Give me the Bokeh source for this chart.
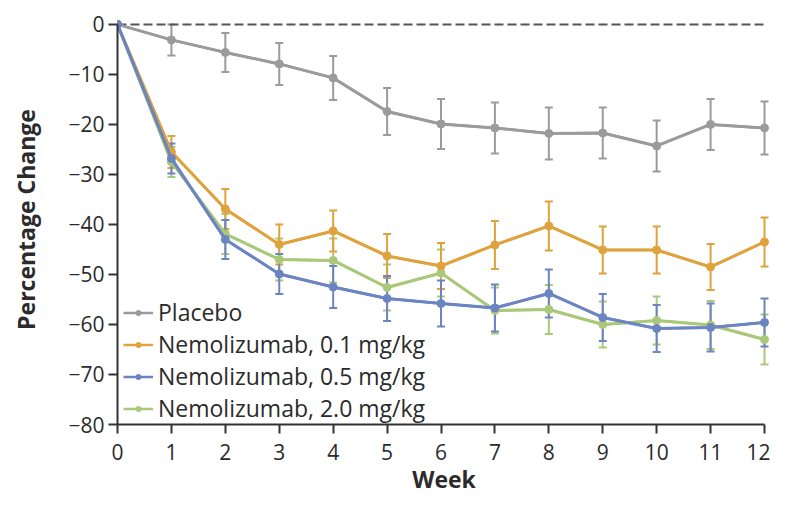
from bokeh.plotting import figure
from bokeh.models import ColumnDataSource, Whisker, Legend, LegendItem, FixedTicker, Range1d, TeeHead
from bokeh.embed import file_html
from bokeh.resources import INLINE

weeks = list(range(13))
placebo = [0, -3.1, -5.6, -7.9, -10.7, -17.4, -19.9, -20.7, -21.8, -21.7, -24.3, -20.0, -20.7]
placebo_err = [0, 3.1, 3.9, 4.2, 4.4, 4.7, 5.0, 5.1, 5.2, 5.1, 5.1, 5.1, 5.3]
nemo01 = [0, -25.5, -36.9, -44.0, -41.3, -46.3, -48.3, -44.1, -40.3, -45.1, -45.1, -48.5, -43.5]
nemo01_err = [0, 3.2, 4.0, 4.0, 4.1, 4.4, 4.6, 4.8, 4.9, 4.7, 4.7, 4.6, 4.9]
nemo05 = [0, -26.8, -43.0, -49.9, -52.5, -54.8, -55.8, -56.7, -53.8, -58.6, -60.8, -60.6, -59.6]
nemo05_err = [0, 3.0, 3.9, 4.0, 4.2, 4.5, 4.6, 4.7, 4.8, 4.7, 4.7, 4.8, 4.8]
nemo20 = [0, -27.5, -41.9, -47.0, -47.2, -52.6, -49.7, -57.2, -57.0, -60.0, -59.2, -60.1, -63.0]
nemo20_err = [0, 3.0, 4.0, 4.2, 4.4, 4.6, 4.7, 4.6, 4.9, 4.6, 4.8, 4.8, 5.0]

series_names = ["Placebo", "Nemolizumab, 0.1 mg/kg", "Nemolizumab, 0.5 mg/kg", "Nemolizumab, 2.0 mg/kg"]
y_ticks = [0, -10, -20, -30, -40, -50, -60, -70, -80]
y_tick_labels = ["0", "\u221210", "\u221220", "\u221230", "\u221240", "\u221250", "\u221260", "\u221270", "\u221280"]

colors = ["#9b9b9b", "#e0a23c", "#6b84c2", "#a9c978"]
FONT = "Open Sans"
TXT = "#2b2b2b"

p = figure(width=770, height=497, output_backend="svg", toolbar_location=None,
           x_range=Range1d(0, 12.111), y_range=Range1d(-80, 1.98),
           min_border_left=117, min_border_right=0, min_border_top=14, min_border_bottom=69)
p.outline_line_color = None
p.grid.visible = False
p.background_fill_color = "white"

# zero reference line
p.line(x=[weeks[0], weeks[-1]], y=[0, 0], line_color="#555555", line_width=2, line_dash="9 4")

data = [
    (placebo, placebo_err),
    (nemo01, nemo01_err),
    (nemo05, nemo05_err),
    (nemo20, nemo20_err),
]
order = [0, 3, 1, 2]
items = {}
for i in order:
    vals, errs = data[i]
    c = colors[i]
    src = ColumnDataSource(dict(x=weeks, y=vals))
    wsrc = ColumnDataSource(dict(x=weeks[1:],
                                 lo=[v - e for v, e in zip(vals[1:], errs[1:])],
                                 hi=[v + e for v, e in zip(vals[1:], errs[1:])]))
    w = Whisker(source=wsrc, base="x", upper="hi", lower="lo", line_color=c, line_width=2,
                upper_head=TeeHead(size=8, line_color=c, line_width=2),
                lower_head=TeeHead(size=8, line_color=c, line_width=2))
    p.add_layout(w)
    # key renderers (thinner line, smaller dot), hidden beneath the main ones
    lg_ln = p.line("x", "y", source=src, line_color=c, line_width=2.5)
    lg_sc = p.scatter("x", "y", source=src, size=5, fill_color=c, line_color=c)
    p.line("x", "y", source=src, line_color=c, line_width=3)
    p.scatter("x", "y", source=src, size=8, fill_color=c, line_color=c)
    items[i] = LegendItem(label=series_names[i], renderers=[lg_ln, lg_sc])

legend = Legend(items=[items[i] for i in range(4)], location=(6, 0),
                label_text_font=FONT, label_text_font_size="23px", label_text_color=TXT,
                glyph_width=30, glyph_height=13, label_height=30, label_standoff=5,
                spacing=-3, padding=0, margin=0,
                background_fill_alpha=0, border_line_alpha=0)
p.add_layout(legend)

for ax in (p.xaxis, p.yaxis):
    ax.axis_line_width = 2
    ax.axis_line_color = "#333333"
    ax.major_tick_line_width = 2
    ax.major_tick_line_color = "#333333"
    ax.major_tick_in = 0
    ax.major_tick_out = 9
    ax.minor_tick_line_color = None
    ax.major_label_text_font = FONT
    ax.major_label_text_font_size = "21px"
    ax.major_label_text_color = TXT
    ax.axis_label_text_font = FONT
    ax.axis_label_text_font_size = "23px"
    ax.axis_label_text_font_style = "bold"
    ax.axis_label_text_color = TXT

p.xaxis.ticker = FixedTicker(ticks=weeks)
p.xaxis.bounds = (weeks[0], weeks[-1])
p.xaxis.major_label_standoff = 10
p.xaxis.axis_label = "Week"
p.xaxis.axis_label_standoff = 0

p.yaxis.ticker = FixedTicker(ticks=y_ticks)
p.yaxis.major_label_overrides = dict(zip(y_ticks, y_tick_labels))
p.yaxis.bounds = (y_ticks[-1], y_ticks[0])
p.yaxis.major_label_standoff = 4
p.yaxis.axis_label = "Percentage Change"
p.yaxis.axis_label_standoff = 23

open("out.html", "w").write(file_html(p, INLINE))
